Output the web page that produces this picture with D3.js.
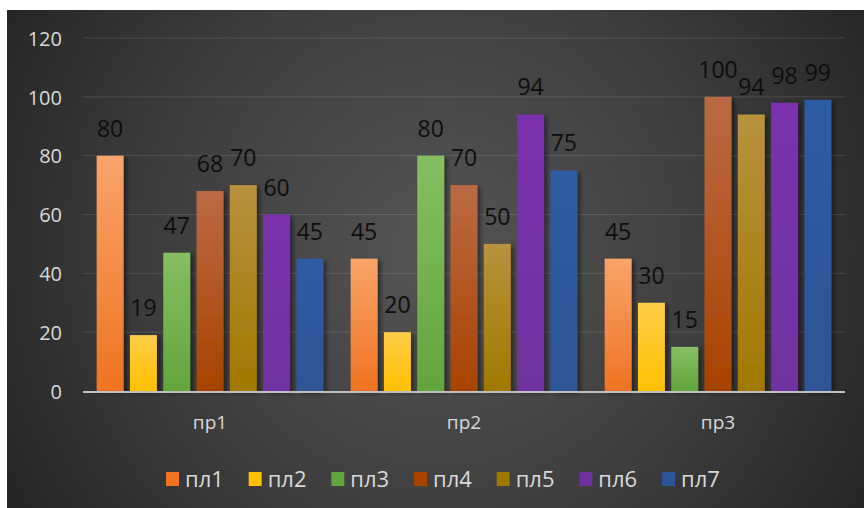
<!DOCTYPE html>
<html><head><meta charset="utf-8">
<script src="https://cdn.jsdelivr.net/npm/d3@7/dist/d3.min.js"></script>
<style>html,body{margin:0;padding:0;background:#fff;}svg{display:block;}</style>
</head><body>
<script>
const categories = ["пр1", "пр2", "пр3"];
const seriesNames = ["пл1", "пл2", "пл3", "пл4", "пл5", "пл6", "пл7"];
const s1 = [80, 45, 45];
const s2 = [19, 20, 30];
const s3 = [47, 80, 15];
const s4 = [68, 70, 100];
const s5 = [70, 50, 94];
const s6 = [60, 94, 98];
const s7 = [45, 75, 99];
const seriesValues = [s1, s2, s3, s4, s5, s6, s7];
const yTicks = [0, 20, 40, 60, 80, 100, 120];

const colorsTop = ["#F8A46A", "#FFCD4A", "#86BF62", "#BB6A45", "#B8923E", "#7B32AE", "#2F5BA3"];
const colorsBot = ["#EF7321", "#FFC000", "#62A53C", "#A84300", "#A07800", "#7030A0", "#2E5597"];

const W = 864, H = 508;
const svg = d3.select("body").append("svg").attr("width", W).attr("height", H);
const defs = svg.append("defs");

const rg = defs.append("radialGradient").attr("id", "bg")
  .attr("gradientUnits", "userSpaceOnUse").attr("cx", 440).attr("cy", 250).attr("r", 520);
rg.append("stop").attr("offset", "0").attr("stop-color", "#555555");
rg.append("stop").attr("offset", "0.55").attr("stop-color", "#3d3d3d");
rg.append("stop").attr("offset", "1").attr("stop-color", "#232323");

seriesNames.forEach((n, i) => {
  const lg = defs.append("linearGradient").attr("id", "g" + i).attr("x1", 0).attr("y1", 0).attr("x2", 0).attr("y2", 1);
  lg.append("stop").attr("offset", "0").attr("stop-color", colorsTop[i]);
  lg.append("stop").attr("offset", "1").attr("stop-color", colorsBot[i]);
});

const f = defs.append("filter").attr("id", "sh").attr("x", "-20%").attr("y", "-10%").attr("width", "160%").attr("height", "130%");
f.append("feDropShadow").attr("dx", 3).attr("dy", 2).attr("stdDeviation", 2).attr("flood-color", "#000").attr("flood-opacity", 0.45);

svg.append("rect").attr("x", 7).attr("y", 10).attr("width", W - 7).attr("height", H - 10).attr("fill", "url(#bg)");

const y = d3.scaleLinear().domain([0, 120]).range([391, 38]);
const x0 = d3.scaleBand().domain(categories).range([83, 845]).paddingInner(0).paddingOuter(0);
const x1 = d3.scaleBand().domain(seriesNames).range([0, x0.bandwidth()]).paddingInner(0.19).paddingOuter(0.41);

// gridlines
svg.append("g").selectAll("line").data(yTicks.filter(t => t > 0)).join("line")
  .attr("x1", 83).attr("x2", 845).attr("y1", d => y(d)).attr("y2", d => y(d))
  .attr("stroke", "rgba(255,255,255,0.12)").attr("stroke-width", 1);

// y axis labels
const yAxis = d3.axisLeft(y).tickValues(yTicks).tickSize(0).tickPadding(0);
const ya = svg.append("g").attr("transform", "translate(62,0)").call(yAxis);
ya.select(".domain").remove();
ya.selectAll("text").attr("fill", "#d9d9d9").attr("font-family", "Open Sans, sans-serif").attr("font-size", 20).attr("dy", "0.36em");

// bars
const groups = svg.append("g").selectAll("g").data(categories).join("g")
  .attr("transform", d => `translate(${x0(d)},0)`);
groups.each(function (cat, ci) {
  const g = d3.select(this);
  const data = seriesNames.map((s, si) => ({ s, si, v: seriesValues[si][ci] }));
  g.selectAll("rect").data(data).join("rect")
    .attr("x", d => x1(d.s)).attr("width", x1.bandwidth())
    .attr("y", d => y(d.v)).attr("height", d => y(0) - y(d.v))
    .attr("fill", d => `url(#g${d.si})`).attr("filter", "url(#sh)");
  g.selectAll("text").data(data).join("text")
    .attr("x", d => x1(d.s) + x1.bandwidth() / 2).attr("y", d => y(d.v) - 19)
    .attr("text-anchor", "middle").attr("fill", "#0d0d0d")
    .attr("font-family", "Open Sans, sans-serif").attr("font-size", 23)
    .text(d => d.v);
});

// baseline
svg.append("line").attr("x1", 83).attr("x2", 845).attr("y1", y(0) + 1).attr("y2", y(0) + 1)
  .attr("stroke", "#bfbfbf").attr("stroke-width", 2);

// category axis labels
const xAxis = d3.axisBottom(x0).tickSize(0).tickPadding(0);
const xa = svg.append("g").attr("transform", "translate(0,415)").call(xAxis);
xa.select(".domain").remove();
xa.selectAll("text").attr("fill", "#d9d9d9").attr("font-family", "Open Sans, sans-serif").attr("font-size", 19).attr("dy", "0.71em");

// legend
const lx = d3.scalePoint().domain(seriesNames).range([166, 662]);
const leg = svg.append("g").selectAll("g").data(seriesNames).join("g")
  .attr("transform", d => `translate(${lx(d)},479)`);
leg.append("rect").attr("x", 0).attr("y", -7).attr("width", 13).attr("height", 14)
  .attr("fill", (d, i) => colorsBot[i]);
leg.append("text").attr("x", 19).attr("y", 0).attr("dy", "0.36em")
  .attr("fill", "#d9d9d9").attr("font-family", "Open Sans, sans-serif").attr("font-size", 22)
  .text(d => d);
</script>
</body></html>
